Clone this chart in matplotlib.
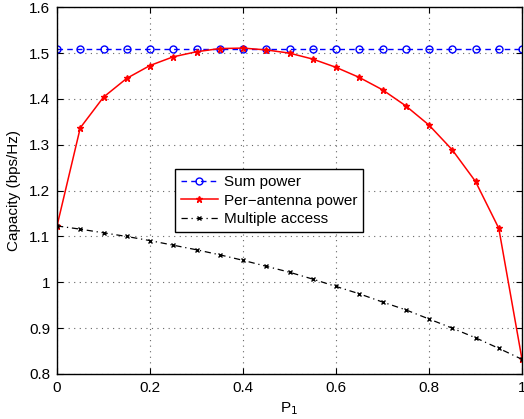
import matplotlib
matplotlib.use("Agg")
from matplotlib import pyplot as plt

p1 = [0.0, 0.05, 0.1, 0.15, 0.2, 0.25, 0.3, 0.35, 0.4, 0.45, 0.5,
      0.55, 0.6, 0.65, 0.7, 0.75, 0.8, 0.85, 0.9, 0.95, 1.0]
sum_power = [1.51] * 21
per_antenna = [1.123, 1.337, 1.404, 1.445, 1.473, 1.492, 1.503, 1.510, 1.511, 1.507, 1.500,
               1.487, 1.469, 1.447, 1.420, 1.385, 1.343, 1.289, 1.220, 1.118, 0.832]
multiple_access = [1.123, 1.116, 1.108, 1.100, 1.091, 1.081, 1.071, 1.060, 1.048, 1.035, 1.022,
                   1.007, 0.991, 0.975, 0.957, 0.940, 0.920, 0.900, 0.879, 0.856, 0.832]

plt.rcParams['font.family'] = ['Liberation Sans', 'DejaVu Sans']
plt.rcParams['font.size'] = 11

fig = plt.figure(figsize=(5.24, 4.19), dpi=100)
ax = fig.add_axes([0.1088, 0.1074, 0.8874, 0.8752])

ax.plot(p1, sum_power, color='blue', linestyle=(0, (4, 3)), marker='o', markersize=5,
        markerfacecolor='none', markeredgewidth=1, linewidth=1, label='Sum power')
ax.plot(p1, per_antenna, '-', color='red', marker='*', markersize=5,
        linewidth=1.1, label='Per\u2212antenna power')
ax.plot(p1, multiple_access, color='black', linestyle=(0, (5, 3, 1, 3)), marker='x',
        markersize=3.5, markeredgewidth=1, linewidth=0.9, label='Multiple access')

ax.set_xlim(0, 1)
ax.set_ylim(0.8, 1.6)
ax.set_xticks([0, 0.2, 0.4, 0.6, 0.8, 1])
ax.set_xticklabels(['0', '0.2', '0.4', '0.6', '0.8', '1'])
ax.set_yticks([0.8, 0.9, 1.0, 1.1, 1.2, 1.3, 1.4, 1.5, 1.6])
ax.set_yticklabels(['0.8', '0.9', '1', '1.1', '1.2', '1.3', '1.4', '1.5', '1.6'])
ax.tick_params(direction='in', top=True, right=True, length=4, pad=5)
ax.grid(True, linestyle=(0, (1, 4)), color='#666666', linewidth=0.8)
for s in ax.spines.values():
    s.set_linewidth(1)

ax.set_xlabel('P$_1$', labelpad=4)
ax.set_ylabel('Capacity (bps/Hz)', labelpad=6)

leg = ax.legend(loc='center', bbox_to_anchor=(0.456, 0.473), fancybox=False,
                edgecolor='black', framealpha=1, borderpad=0.4, labelspacing=0.3,
                handlelength=2.4, handletextpad=0.4, borderaxespad=0, fontsize=11)
leg.get_frame().set_linewidth(1)

fig.savefig('out.png', dpi=100)
